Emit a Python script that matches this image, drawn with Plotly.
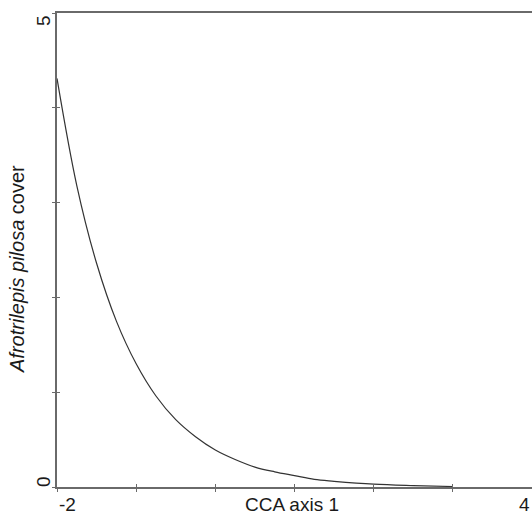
import plotly.graph_objects as go

# Data
cca_axis1 = [-2.0, -1.75, -1.5, -1.25, -1.0, -0.75, -0.5, -0.25, 0.0, 0.25,
             0.5, 0.75, 1.0, 1.25, 1.5, 2.0, 2.5, 3.0]
cover = [4.31, 3.18, 2.36, 1.75, 1.30, 0.96, 0.71, 0.53, 0.39, 0.29,
         0.21, 0.16, 0.12, 0.08, 0.06, 0.03, 0.015, 0.005]
x_range = [-2, 4]
y_range = [0, 5]
x_tick_labels = ["-2", "4"]
y_tick_labels = ["0", "5"]

FONT = "Arial, Liberation Sans, sans-serif"
AX = "#6a6a6a"

fig = go.Figure()
fig.add_trace(go.Scatter(x=cca_axis1, y=cover, mode="lines",
                         line=dict(color="#333333", width=1.2, shape="spline"),
                         showlegend=False, hoverinfo="skip"))

fig.update_layout(
    width=532, height=515,
    margin=dict(l=57, r=0, t=13, b=28),
    paper_bgcolor="white", plot_bgcolor="white",
    xaxis=dict(range=x_range, dtick=1, showgrid=False, zeroline=False,
               showline=True, linecolor=AX, linewidth=1.5, mirror=True,
               ticks="outside", ticklen=3, tickcolor=AX, tickwidth=1,
               showticklabels=False),
    yaxis=dict(range=y_range, dtick=1, showgrid=False, zeroline=False,
               showline=True, linecolor=AX, linewidth=1.5,
               ticks="outside", ticklen=3, tickcolor=AX, tickwidth=1,
               showticklabels=False),
    xaxis2=dict(overlaying="x", matches="x", anchor="y", side="bottom",
                range=x_range, dtick=1, showgrid=False, zeroline=False,
                showline=False, ticks="inside", ticklen=3, tickcolor=AX,
                tickwidth=1, showticklabels=False),
    yaxis2=dict(overlaying="y", matches="y", anchor="x", side="left",
                range=y_range, dtick=1, showgrid=False, zeroline=False,
                showline=False, ticks="inside", ticklen=3, tickcolor=AX,
                tickwidth=1, showticklabels=False),
)
# invisible trace to activate the second axes
fig.add_trace(go.Scatter(x=[x_range[0]], y=[y_range[0]], xaxis="x2", yaxis="y2",
                         mode="markers", marker=dict(opacity=0),
                         showlegend=False, hoverinfo="skip"))

tf = dict(family=FONT, size=19, color="#1a1a1a")
ann = [
    dict(text=x_tick_labels[0], x=x_range[0], xref="x", y=0, yref="paper",
         xanchor="left", yanchor="top", yshift=-5, showarrow=False, font=tf),
    dict(text=x_tick_labels[1], x=x_range[1], xref="x", y=0, yref="paper",
         xanchor="right", yanchor="top", yshift=-5, showarrow=False, font=tf),
    dict(text="CCA axis 1", x=0.5, xref="paper", y=0, yref="paper",
         xanchor="center", yanchor="top", yshift=-5, xshift=-3,
         showarrow=False, font=tf),
    dict(text=y_tick_labels[0], x=0, xref="paper", y=y_range[0], yref="y",
         xanchor="center", yanchor="middle", xshift=-14, yshift=5,
         textangle=-90, showarrow=False, font=tf),
    dict(text=y_tick_labels[1], x=0, xref="paper", y=y_range[1], yref="y",
         xanchor="center", yanchor="middle", xshift=-14, yshift=-8,
         textangle=-90, showarrow=False, font=tf),
    dict(text="<i>Afrotrilepis pilosa</i> cover", x=0, xref="paper", y=0.5,
         yref="paper", xanchor="center", yanchor="middle", xshift=-40,
         yshift=-19, textangle=-90, showarrow=False,
         font=dict(family=FONT, size=20, color="#1a1a1a")),
]
fig.update_layout(annotations=ann)

fig.write_html("out.html", config={"displayModeBar": False},
               post_script="document.body.style.margin='0';"
                           "document.body.style.overflow='hidden';")
